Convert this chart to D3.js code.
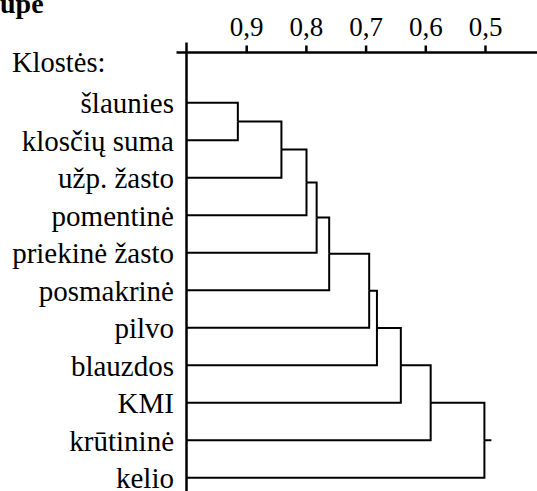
<!DOCTYPE html>
<html lang="lt">
<head>
  <meta charset="UTF-8" />
  <title>Klostės – dendrograma</title>
  <script src="https://d3js.org/d3.v7.min.js"></script>
  <style>
    body { margin: 0; overflow: hidden; background: #fff; }
    svg { display: block; background: #fff; }
  </style>
</head>
<body>
  <svg width="537" height="491"></svg>
  <script>
    const width = 537, height = 491;
    const serif = "Liberation Serif";

    // Duomenys: lapai (iš viršaus į apačią) ir sujungimo lygiai
    const leaves = ["šlaunies", "klosčių suma", "užp. žasto", "pomentinė", "priekinė žasto",
                    "posmakrinė", "pilvo", "blauzdos", "KMI", "krūtininė", "kelio"];
    // k-tasis sujungimas prijungia (k+1)-ąjį lapą prie ankstesnio klasterio
    const joinLevels = [0.914, 0.841, 0.799, 0.782, 0.761, 0.694, 0.681, 0.641, 0.591, 0.501];
    const tickValues = [0.9, 0.8, 0.7, 0.6, 0.5];
    const axisLabel = "Klostės:";
    const title = "upe";

    const svg = d3.select("svg");

    const x = d3.scaleLinear().domain([1, 0.5]).range([186.5, 485]);
    const y = d3.scalePoint().domain(leaves).range([102.7, 477.7]);

    // Medžio struktūra (grandinė)
    let node = { name: leaves[0], level: 1 };
    joinLevels.forEach((lv, i) => {
      node = { level: lv, children: [node, { name: leaves[i + 1], level: 1 }] };
    });
    const root = d3.hierarchy(node);
    root.eachAfter(d => {
      d.py = d.children ? d3.mean(d.children, c => c.py) : y(d.data.name);
    });

    // Ašys
    const axisY = 52.5;
    const gAx = svg.append("g")
      .attr("stroke", "#000").attr("stroke-width", 2.5);
    gAx.append("line")
      .attr("x1", x(1) - 10).attr("x2", width)
      .attr("y1", axisY).attr("y2", axisY);
    gAx.append("line")
      .attr("x1", x(1)).attr("x2", x(1))
      .attr("y1", axisY - 10).attr("y2", height);

    const axis = d3.axisTop(x)
      .tickValues(tickValues)
      .tickSize(7)
      .tickSizeOuter(0)
      .tickFormat(d => d3.format(".1f")(d).replace(".", ","));
    const gTicks = svg.append("g")
      .attr("transform", `translate(0,${axisY})`)
      .call(axis)
      .attr("font-family", serif)
      .attr("font-size", 27);
    gTicks.select(".domain").remove();
    gTicks.selectAll("line")
      .attr("stroke", "#000").attr("stroke-width", 2.5);
    gTicks.selectAll("text")
      .attr("y", -17)
      .attr("fill", "#000");

    // Dendrograma
    const tree = svg.append("g")
      .attr("fill", "none").attr("stroke", "#000").attr("stroke-width", 2);
    tree.selectAll("path.link")
      .data(root.descendants().filter(d => d.parent))
      .enter().append("path")
        .attr("class", "link")
        .attr("d", d => `M${x(d.data.level)},${d.py}H${x(d.parent.data.level)}V${d.parent.py}`);
    tree.append("path")
      .attr("d", `M${x(root.data.level)},${root.py}h7`);

    // Lapų pavadinimai
    const labels = svg.append("g")
      .attr("font-family", serif)
      .attr("font-size", 29);
    labels.selectAll("text")
      .data(leaves)
      .enter().append("text")
        .attr("x", x(1) - 12.5)
        .attr("y", d => y(d) + 10.5)
        .attr("text-anchor", "end")
        .text(d => d);

    labels.append("text")
      .attr("x", 12).attr("y", 72)
      .attr("font-size", 28.5)
      .text(axisLabel);

    labels.append("text")
      .attr("x", 0).attr("y", 13)
      .attr("font-size", 28)
      .attr("font-weight", "bold")
      .text(title);
  </script>
</body>
</html>
